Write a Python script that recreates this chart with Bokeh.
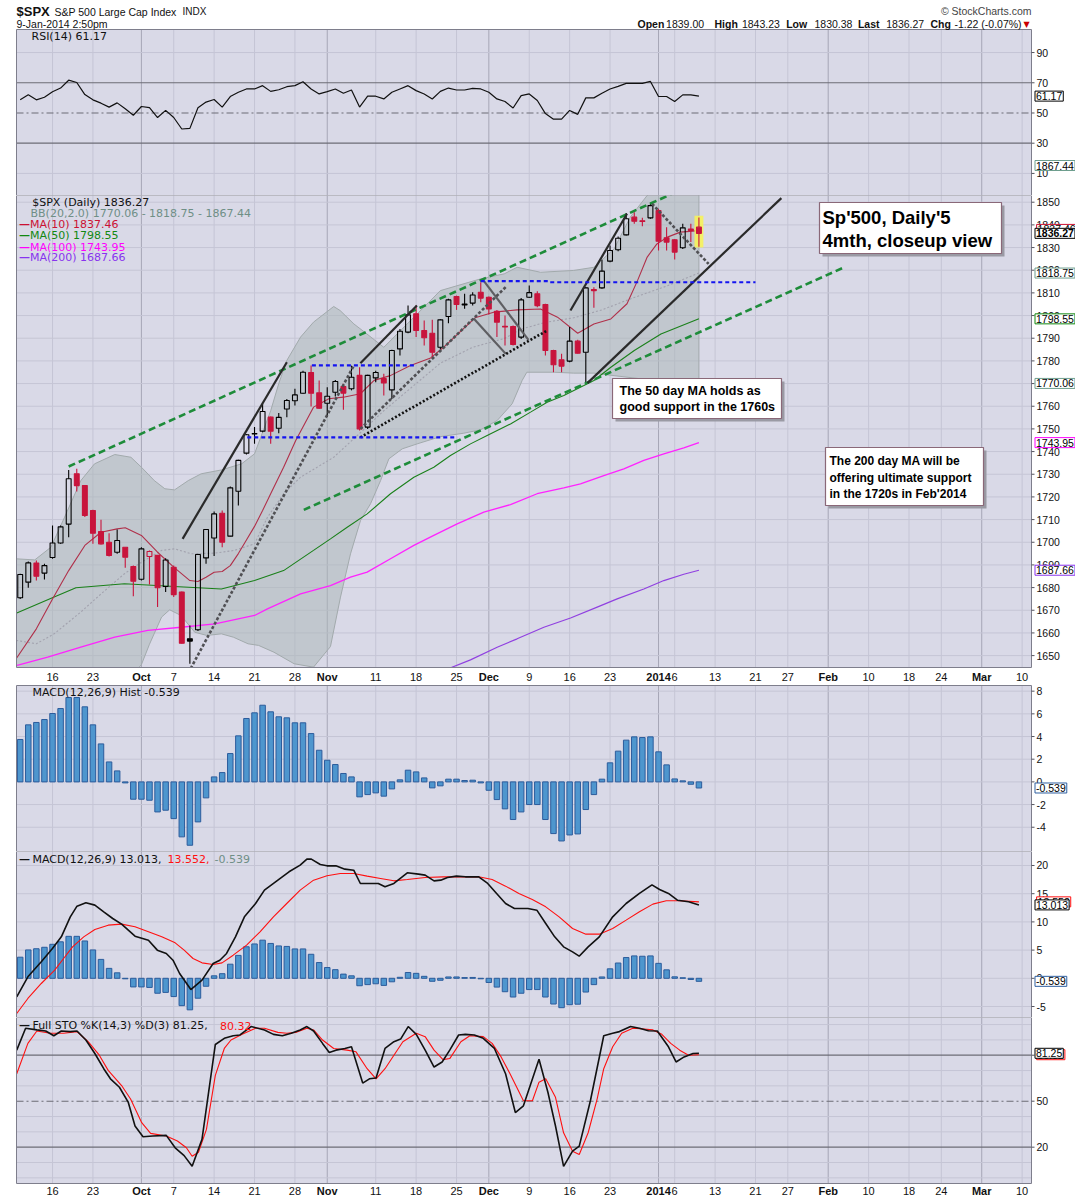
from bokeh.plotting import figure
from bokeh.models import Range1d, Label, Grid, ColumnDataSource
from bokeh.layouts import column
from bokeh.embed import file_html
from bokeh.resources import INLINE
from bokeh.core.properties import value

# ---------------- data ----------------
# daily candles, trading-day index 0 = 10-Sep-2013 ... 84 = 9-Jan-2014
opens = [1675.5,1682.4,1690.8,1686.4,1693.3,1699.7,1708.0,1730.2,1725.0,1714.0,
 1704.7,1700.0,1695.6,1697.8,1689.3,1683.7,1693.7,1694.2,1680.5,1689.0,
 1678.0,1657.4,1661.4,1693.1,1701.9,1712.8,1702.7,1722.5,1739.3,1747.8,
 1749.0,1755.2,1750.3,1758.8,1762.4,1765.7,1774.9,1765.9,1761.3,1766.2,
 1768.7,1767.7,1773.6,1750.8,1772.5,1772.2,1767.2,1785.3,1792.7,1800.8,
 1793.4,1792.2,1786.0,1799.6,1808.4,1804.7,1805.5,1810.3,1808.1,1801.9,
 1795.3,1795.2,1790.5,1808.1,1809.6,1804.9,1784.6,1780.5,1779.9,1788.7,
 1783.8,1811.5,1812.2,1824.0,1829.0,1835.6,1843.4,1841.8,1843.1,1846.3,
 1834.3,1833.4,1829.9,1838.2,1839.00]
highs = [1686.1,1691.5,1691.9,1690.5,1707.4,1707.4,1731.9,1732.4,1725.3,1714.3,
 1709.9,1704.0,1705.6,1697.8,1689.7,1697.8,1696.4,1694.2,1692.9,1689.7,
 1678.3,1663.3,1694.9,1705.9,1713.6,1714.0,1724.6,1736.4,1747.8,1750.8,
 1761.1,1755.5,1757.0,1763.2,1767.7,1775.7,1778.0,1771.3,1768.4,1771.6,
 1769.9,1777.9,1777.2,1773.9,1775.7,1774.3,1784.9,1794.1,1804.4,1804.4,
 1797.8,1798.1,1798.5,1807.4,1808.8,1809.6,1810.3,1814.7,1808.4,1802.5,
 1800.0,1795.6,1807.8,1813.3,1810.7,1805.2,1784.9,1783.1,1794.9,1789.3,
 1812.5,1812.5,1824.6,1830.9,1834.9,1845.2,1845.6,1843.1,1849.6,1847.1,
 1839.0,1833.8,1840.5,1840.5,1843.23]
lows = [1675.0,1679.9,1683.1,1683.6,1692.7,1699.3,1702.2,1722.4,1711.1,1699.3,
 1699.0,1693.7,1694.9,1688.7,1676.2,1683.1,1681.4,1671.4,1678.0,1675.8,
 1655.2,1646.4,1660.8,1690.5,1693.9,1697.8,1702.5,1716.2,1738.7,1743.4,
 1748.5,1743.4,1748.1,1755.1,1760.3,1765.5,1759.9,1758.8,1755.2,1764.3,
 1758.4,1767.0,1749.3,1750.0,1770.6,1764.7,1763.2,1782.4,1792.2,1790.5,
 1786.8,1781.6,1785.3,1796.6,1802.5,1803.0,1804.4,1805.9,1800.5,1790.5,
 1786.8,1786.8,1789.7,1807.8,1803.7,1782.4,1775.0,1775.0,1779.4,1783.1,
 1770.2,1803.4,1811.8,1823.5,1828.4,1835.3,1840.5,1839.4,1842.7,1828.7,
 1828.7,1824.7,1829.4,1832.4,1830.38]
closes = [1685.8,1690.9,1685.0,1689.7,1699.7,1706.8,1728.0,1725.0,1711.8,1704.0,
 1699.3,1694.2,1700.8,1693.4,1682.8,1697.1,1695.9,1679.9,1692.2,1676.9,
 1655.5,1656.4,1694.6,1705.6,1712.5,1700.0,1724.0,1736.1,1747.4,1747.9,
 1757.7,1749.0,1755.1,1762.5,1765.0,1775.0,1765.7,1759.1,1764.4,1770.9,
 1765.8,1772.8,1750.0,1773.6,1774.9,1770.3,1784.6,1793.1,1800.3,1793.4,
 1790.2,1783.8,1798.1,1806.9,1804.9,1805.1,1809.1,1807.7,1802.9,1797.1,
 1795.0,1787.2,1806.9,1810.1,1804.4,1784.6,1778.3,1777.7,1788.7,1783.4,
 1812.2,1811.0,1819.6,1828.7,1834.1,1842.7,1841.6,1841.5,1848.5,1832.8,
 1832.4,1828.0,1838.7,1837.5,1836.27]

rsi = [58.7,62.0,58.7,60.4,64.1,66.5,71.7,70.2,62.2,58.7,
 56.5,53.9,56.7,52.8,48.5,54.3,53.5,47.0,51.7,47.0,
 39.4,39.8,53.5,57.2,58.9,53.9,60.9,63.7,65.9,65.9,
 68.1,64.3,65.4,67.4,68.1,70.7,65.9,62.6,64.1,65.9,
 63.1,65.2,53.9,61.1,61.1,59.3,63.7,65.9,68.1,64.8,
 62.6,59.3,64.3,66.5,65.2,65.2,66.3,65.9,63.7,59.3,
 57.6,53.3,61.5,62.6,58.3,49.6,45.9,45.9,51.7,49.1,
 60.0,60.0,63.1,65.9,67.6,69.6,69.6,69.6,70.9,60.9,
 60.9,57.6,62.0,62.0,61.17]

hist = [3.74,5.03,5.24,5.5,6.03,6.47,7.44,7.44,6.62,5.03,
 3.35,1.76,0.97,-0.09,-1.53,-1.53,-1.62,-2.65,-2.5,-3.24,
 -4.85,-5.59,-3.53,-1.41,0.44,0.82,2.5,4.06,5.59,6.09,
 6.76,6.18,5.74,5.65,5.21,5.21,4.26,2.79,1.91,1.53,
 0.74,0.44,-1.32,-1.12,-0.97,-1.26,-0.62,0.18,1.03,0.88,
 0.35,-0.53,-0.35,0.24,0.24,0.12,0.15,-0.09,-0.74,-1.56,
 -2.38,-3.32,-2.65,-2.0,-2.0,-3.32,-4.56,-5.21,-4.68,-4.59,
 -2.44,-1.12,0.24,1.68,2.71,3.68,3.97,3.91,3.97,2.65,
 1.5,0.26,0.09,-0.21,-0.539]

macd_t = [-0.43,0.95,2.61,3.99,5.09,6.2,7.03,8.13,9.24,10.34,11.45,12.55,13.38,14.21,15.87,
 16.97,18.08,18.91,19.73,21.12,22.5,23.88,24.71,25.54,26.64,27.75,29.13,30.23,31.89,33.27,
 34.65,35.48,36.03,37.14,37.97,39.07,40.18,41.28,42.1,43.2,44.32,45.15,46.25,47.91,49.29,
 50.12,51.22,52.05,52.88,53.99,55.09,56.75,57.86,58.96,60.07,61.17,62.83,63.94,65.04,66.15,
 67.25,68.36,69.18,70.29,71.67,73.33,74.99,76.64,78.19,79.13,80.23,81.34,82.72,84.0]
macd_v = [-3.29,0.26,2.92,5.29,7.35,10.9,12.79,13.38,12.97,11.79,10.6,9.6,8.54,7.47,6.76,
 4.99,4.4,3.21,0.85,-1.99,-0.33,2.62,3.21,4.4,7.35,10.9,13.26,15.63,17.4,18.88,
 20.06,21.12,21.12,20.18,19.94,19.94,19.35,19.17,16.81,16.81,16.81,16.22,16.81,18.7,18.47,
 18.29,17.28,17.4,17.87,18.11,17.99,17.99,16.81,15.04,13.26,12.38,12.38,12.08,9.72,7.35,
 5.58,4.69,3.92,5.58,7.35,10.9,13.26,15.04,16.57,15.75,15.04,13.85,13.56,13.013]
sig_t = [-0.43,0.95,2.61,4.27,5.37,6.48,7.86,9.24,10.89,12.55,14.21,15.87,17.52,19.18,20.29,
 21.39,22.5,23.88,24.98,26.36,28.02,29.68,31.34,32.99,34.65,36.31,37.97,39.62,41.28,42.94,
 44.6,46.25,47.91,50.12,52.33,54.54,56.75,58.41,60.07,61.72,63.38,65.04,66.7,68.36,70.01,
 71.67,73.33,74.99,76.64,78.3,79.96,81.62,84.0]
sig_v = [-6.24,-3.58,-0.92,1.44,3.51,5.58,7.35,8.65,9.42,9.6,9.13,8.24,7.35,6.29,4.99,
 3.51,2.74,2.45,2.74,4.1,5.88,8.24,10.9,13.26,15.63,17.4,18.17,18.58,18.58,18.11,
 17.7,17.28,17.52,17.87,17.99,17.99,17.99,17.52,16.34,15.04,13.97,12.67,10.9,8.83,7.83,
 7.83,8.83,10.31,11.79,13.15,13.74,13.74,13.552]

stok_t = [-0.43,0.67,2.06,3.16,4.16,5.09,6.2,7.03,8.13,9.24,10.34,11.17,12.28,13.38,14.21,
 15.2,16.42,18.08,19.18,20.29,21.28,22.5,24.15,25.26,26.36,27.2,28.57,30.23,31.34,32.44,
 33.55,34.65,35.48,36.31,37.42,38.25,39.08,40.18,41.0,42.39,43.22,44.04,45.15,46.25,47.08,
 48.02,49.02,50.12,51.22,52.22,53.16,54.26,55.09,56.2,57.31,58.69,60.07,61.28,62.28,64.21,
 65.31,66.25,67.25,68.36,69.19,70.57,72.22,73.33,74.16,75.54,76.64,77.75,78.85,80.23,81.17,
 82.17,83.27,84.0]
stok_v = [83.3,97.6,96.5,95.8,92.7,95.8,95.4,95.8,89.9,81.1,71.2,64.6,59.1,49.2,33.8,
 26.8,27.3,27.7,19.6,14.5,7.5,25.1,87.0,91.0,92.7,93.2,98.7,96.5,93.6,92.7,
 94.3,96.5,98.7,95.8,87.7,81.8,83.3,84.4,85.5,61.8,64.6,65.1,84.4,88.8,90.5,
 98.7,93.6,83.3,72.3,75.6,83.3,93.2,93.6,93.2,91.0,84.4,67.9,42.6,47.0,77.4,
 55.8,33.8,7.5,17.4,20.7,50.3,92.7,94.3,95.4,98.7,97.6,96.0,95.8,85.5,75.6,
 78.9,81.1,81.25]
stod_t = [-0.43,0.95,2.06,3.71,5.37,7.03,8.41,9.79,10.89,12.55,13.66,15.04,16.14,18.08,19.46,
 20.57,21.28,22.06,23.05,24.15,25.26,26.09,27.47,29.13,30.23,31.89,33.0,34.1,35.48,36.31,
 37.42,38.8,40.45,41.56,42.94,44.04,45.15,46.25,47.36,49.02,50.12,51.22,52.33,53.16,54.54,
 55.65,57.31,58.41,59.52,60.62,61.45,62.28,63.39,64.21,65.04,66.25,67.25,68.36,69.19,70.29,
 71.4,72.22,73.33,74.44,75.82,77.2,78.3,79.41,80.51,81.62,82.72,84.0]
stod_v = [67.9,87.7,95.8,94.3,94.3,95.4,88.8,80.0,70.1,60.2,51.4,36.0,29.0,27.3,24.0,
 19.6,14.1,16.7,31.6,66.8,84.4,89.9,93.6,97.6,97.6,94.9,94.3,94.9,97.6,96.5,
 89.9,84.4,83.3,82.2,71.2,64.6,71.2,80.0,88.8,94.3,92.1,83.3,77.1,77.8,88.8,
 92.7,92.1,87.7,78.9,67.9,59.1,50.3,50.3,62.4,64.6,52.5,29.4,17.4,15.2,29.4,
 51.4,71.2,85.5,94.3,97.6,97.1,96.5,93.6,87.7,83.3,80.0,80.32]

ma10_t = [-0.5,2,4,6,8,10,12,13,15,17,19,21,22,23,24,25,26,27,28,29,30,31,32.6,34.1,36.3,
 38.2,40,42.1,43.8,45.8,48.3,50.8,52.4,54.7,56.3,58.6,61.5,64.4,66.5,69,71,73.1,75.1,76.4,
 77.6,78.8,80.1,81.7,84]
ma10_v = [1648.6,1661.8,1675.0,1687.5,1698.6,1704.4,1705.9,1706.4,1703.0,1695.6,1689.0,1683.1,
 1682.7,1684.6,1686.8,1687.1,1689.7,1695.0,1701.0,1707.0,1714.0,1721.4,1733.1,1744.9,1759.6,
 1763.3,1764.0,1765.5,1771.4,1773.5,1778.0,1781.3,1786.0,1793.7,1799.0,1801.5,1802.5,1802.9,
 1799.3,1792.2,1796.3,1798.5,1805.2,1815.4,1825.8,1831.6,1834.6,1836.8,1837.46]
ma50_t = [-0.5,4.2,6.9,12.9,19.1,24.9,29,32.6,36.3,38.4,40.47,42.94,45.83,48.72,51.19,53.25,
 55.73,57.79,60.68,63.16,65.22,67.28,69.76,71,73.1,76,79.3,84]
ma50_v = [1668.7,1675.8,1679.9,1681.7,1680.5,1679.4,1683.1,1687.5,1696.4,1701.5,1706.6,1712.5,
 1721.4,1728.7,1733.1,1738.3,1743.4,1747.1,1752.2,1757.4,1761.8,1764.7,1769.1,1771.35,1777.2,
 1784.6,1791.9,1798.55]
ma100_t = [-0.5,3.4,7.5,11.7,15.8,19.9,24.1,29,30.6,34.7,38.4,40.88,42.94,45.83,48.72,51.19,
 54.08,57.38,60.68,63.98,67.28,69.34,72.23,74.71,77.18,79.66,82.13,84]
ma100_v = [1645.6,1649.3,1653.7,1658.1,1661.1,1662.5,1664.0,1667.7,1670.6,1677.2,1680.9,1684.6,
 1686.8,1692.7,1698.6,1703.0,1708.1,1713.3,1716.6,1721.4,1724.0,1725.8,1729.4,1732.4,1736.1,
 1739.0,1741.6,1743.95]
ma200_t = [50.5,52.43,55.73,59.03,61.5,64.81,68.11,71.41,73.88,77.18,79.66,82.13,84]
ma200_v = [1640.8,1643.4,1648.1,1653.7,1657.4,1662.5,1666.6,1671.4,1675.0,1679.4,1683.1,1685.9,1687.66]

bb_up_t = [-0.5,1.8,3.8,5.5,7.5,9.2,11.7,13.7,15,16.6,17.9,19.1,20.8,22.4,24.9,27.4,29,31,32,33,
 34.7,36.3,38.8,39.6,41.3,42.9,45,47.9,52,57,59.9,61.5,64.4,68.5,71,73.5,75.5,77.6,80,84]
bb_up_v = [1692.7,1692.2,1697.8,1711.1,1727.2,1734.6,1738.7,1737.5,1733.1,1727.2,1723.6,1723.1,
 1727.2,1730.2,1731.9,1734.6,1739.0,1758.0,1770.0,1780.2,1790.5,1797.1,1804.0,1802.2,1796.3,
 1791.9,1786.0,1796.3,1811.0,1816.2,1818.4,1821.3,1819.1,1819.9,1821.3,1829.4,1843.4,1853.0,
 1860.0,1867.44]
bb_lo_t = [-0.5,5,10,12.5,14,15,16,17.5,18.5,19.9,21.6,23.1,24.9,26.4,28.2,29.5,31.4,33.9,36.3,
 38.4,39.64,40.88,42.12,43.36,44.6,45.63,47.28,49.13,52.02,54.9,56.97,59.03,60.89,62.12,62.7,
 66.1,68.5,71,73.5,76.8,80.9,84]
bb_lo_v = [1636.0,1634.0,1634.0,1638.0,1642.0,1646.0,1655.0,1667.0,1670.2,1667.7,1660.3,1658.9,
 1659.6,1658.1,1655.2,1654.5,1651.5,1646.4,1644.9,1654.0,1675.8,1694.9,1709.6,1717.0,1727.2,
 1736.8,1741.2,1743.4,1746.6,1748.1,1749.6,1753.7,1761.1,1771.35,1775.0,1775.0,1774.6,1774.6,
 1773.5,1772.1,1770.6,1770.06]
bb_mid_t = [-0.5,2,4.2,7.5,10,12.9,15,17.5,19.1,21.2,24.1,26.5,29,30.6,32.6,34.7,38.8,42,45,48,
 52,56,60,62,65,68.5,72,76,80,84]
bb_mid_v = [1656.7,1655.2,1659.6,1669.2,1677.2,1686.1,1691.2,1696.4,1697.1,1694.9,1695.2,1696.4,
 1699.3,1711.0,1721.4,1728.7,1737.5,1748.0,1758.0,1767.0,1779.0,1786.0,1790.0,1794.0,1797.0,
 1799.0,1802.5,1808.0,1813.0,1818.75]

# hand-drawn chart annotations: (index0, price0, index1, price1)
green_dash_lines = [(6.0, 1733.4, 94.2, 1875.5), (35.1, 1714.3, 102.1, 1821.5)]
black_lines = [(20.1, 1701.5, 33.0, 1779.4), (42.1, 1779.0, 49.1, 1804.4),
               (68.1, 1802.2, 75.1, 1844.9), (70.2, 1770.2, 94.2, 1851.8)]
gray_dash_lines = [(21.1, 1644.3, 41.3, 1778.0), (42.1, 1750.0, 60.1, 1812.6),
                   (78.2, 1849.3, 85.2, 1822.8)]
black_dot_lines = [(42.1, 1746.3, 65.2, 1793.4)]
blue_dash_lines = [(36.1, 1778.0, 49.1, 1778.0), (28.1, 1746.3, 54.1, 1746.3),
                   (57.0, 1815.2, 65.6, 1815.2), (65.6, 1814.7, 91.0, 1814.7)]
gray_lines = [(56.1, 1798.8, 60.1, 1783.1), (57.4, 1815.2, 62.9, 1789.3)]
highlight_idx = 84

# time axis (trading-day index of each tick)
tick_idx = [4, 9, 15, 19, 24, 29, 34, 38, 44, 49, 54, 58, 63, 68, 73, 79, 81, 86, 91, 95,
            100, 105, 110, 114, 119, 124]
tick_lab = ["16", "23", "Oct", "7", "14", "21", "28", "Nov", "11", "18", "25", "Dec", "9", "16",
            "23", "2014", "6", "13", "21", "27", "Feb", "10", "18", "24", "Mar", "10"]
month_lab = ["Oct", "Nov", "Dec", "2014", "Feb", "Mar"]

rsi_ticks = [10, 30, 50, 70, 90]
price_ticks = list(range(1650, 1851, 10))
hist_ticks = [-4, -2, 0, 2, 4, 6, 8]
macd_ticks = [-5, 0, 5, 10, 15, 20]
sto_ticks = [20, 50, 80]

# ---------------- layout & style ----------------
BG = "#D9D9E7"
GRID_LIGHT = "#C5C5D5"
GRID_MONTH = "#A6A6B6"
LINE_DARK = "#6C6C76"
OUTLINE = "#7E7E8C"
RED = "#C8143C"
BAR_FILL = "#4E96CE"
BAR_LINE = "#2C5C9C"
FONT = "Liberation Sans"
LFONT = "DejaVu Sans"

PAGE_W = 1075
PX_PER_DAY = 8.08
IDX0_PX = 19.7          # page x of trading day 0


def X(px):
    return (px - IDX0_PX) / PX_PER_DAY


XL, XR = X(0), X(PAGE_W)        # canvas edges
X0, X1 = X(16), X(1031)         # plot area edges


class Panel:
    def __init__(self, T, B, pt, pb, lo, hi):
        self.T, self.B, self.pt, self.pb, self.lo, self.hi = T, B, pt, pb, lo, hi
        self.s = (hi - lo) / (pb - pt)
        self.clo = lo - (B - pb) * self.s
        self.chi = hi + (pt - T) * self.s

    def Y(self, py):
        return self.hi - (py - self.pt) * self.s


P_RSI = Panel(0, 195, 29, 195, -4.6, 105.25)
P_PR = Panel(195, 684, 195, 667, 1644.75, 1852.96)
P_H = Panel(684, 851, 685, 851, -6.14, 8.5)
P_M = Panel(851, 1017, 851, 1017, -6.95, 22.48)
P_S = Panel(1017, 1198, 1017, 1183, -3.7, 104.6)

week_ticks = [t for t, l in zip(tick_idx, tick_lab) if l not in month_lab]
month_ticks = [t for t, l in zip(tick_idx, tick_lab) if l in month_lab]


def make_fig(P):
    p = figure(width=PAGE_W, height=P.B - P.T, x_range=Range1d(XL, XR),
               y_range=Range1d(P.clo, P.chi), output_backend="svg", toolbar_location=None,
               x_axis_location=None, y_axis_location=None, title=None, min_border=0,
               background_fill_color="white", border_fill_color="white",
               outline_line_color=None)
    p.center = [r for r in p.center if not isinstance(r, Grid)]
    p.quad(left=[X0], right=[X1], bottom=[P.lo], top=[P.hi], fill_color=BG, line_color=None)
    vlines(p, P, week_ticks, GRID_LIGHT)
    vlines(p, P, month_ticks, GRID_MONTH)
    return p


def hlines(p, ys, color, width=1.0, dash="solid"):
    p.segment(x0=[X0] * len(ys), x1=[X1] * len(ys), y0=ys, y1=ys, line_color=color,
              line_width=width, line_dash=dash)


def vlines(p, P, xs, color):
    p.segment(x0=xs, x1=xs, y0=[P.lo] * len(xs), y1=[P.hi] * len(xs), line_color=color,
              line_width=1)


def txt(p, x, y, text, size="11px", color="#111111", bold=False, font=LFONT, align="left"):
    if not isinstance(text, list):
        x, y, text = [x], [y], [text]
    p.text(x=x, y=y, text=text, text_font=value(font), text_font_size=size,
           text_color=color, text_font_style="bold" if bold else "normal",
           text_baseline="middle", text_align=align)


def finish(p, P, ticks):
    big = 1e4 * P.s
    p.quad(left=[X1], right=[XR + 5], bottom=[P.clo - big], top=[P.chi + big],
           fill_color="white", line_color=None)
    p.quad(left=[XL - 5], right=[X0], bottom=[P.clo - big], top=[P.chi + big],
           fill_color="white", line_color=None)
    if P.pb < P.B:
        p.quad(left=[XL - 5], right=[XR + 5], bottom=[P.clo - big], top=[P.lo],
               fill_color="white", line_color=None)
    if P.pt > P.T:
        p.quad(left=[XL - 5], right=[XR + 5], bottom=[P.hi], top=[P.chi + big],
               fill_color="white", line_color=None)
    p.quad(left=[X0], right=[X1], bottom=[P.lo], top=[P.hi], fill_color=None,
           line_color=OUTLINE, line_width=1)
    n = len(ticks)
    p.segment(x0=[X1] * n, x1=[X(1034)] * n, y0=ticks, y1=ticks, line_color="#555560",
              line_width=1)
    txt(p, [X(1036)] * n, ticks, [str(t) for t in ticks], size="10.5px", font=FONT)


def value_box(p, y, text, border, bold=False, dx=0.0):
    p.add_layout(Label(x=X(1034.5) + dx, y=y, text=text, text_font=FONT,
                       text_font_size="10.5px", text_color="black",
                       text_font_style="bold" if bold else "normal", text_baseline="middle",
                       text_align="left", background_fill_color="white",
                       border_line_color=border, border_line_width=1, padding=1))


def x_labels(p, y):
    norm = [(t, l) for t, l in zip(tick_idx, tick_lab) if l not in month_lab]
    bold = [(t, l) for t, l in zip(tick_idx, tick_lab) if l in month_lab]
    txt(p, [t for t, _ in norm], [y] * len(norm), [l for _, l in norm], font=FONT,
        align="center")
    txt(p, [t for t, _ in bold], [y] * len(bold), [l for _, l in bold], font=FONT,
        bold=True, align="center")


def segs(p, lines, **kw):
    p.segment(x0=[s[0] for s in lines], y0=[s[1] for s in lines],
              x1=[s[2] for s in lines], y1=[s[3] for s in lines], **kw)


idx = list(range(len(closes)))

# ---------------- RSI panel (with page header) ----------------
p_rsi = make_fig(P_RSI)
hlines(p_rsi, [10, 90], GRID_LIGHT)
hlines(p_rsi, [30, 70], LINE_DARK, width=1.2)
hlines(p_rsi, [50], LINE_DARK, width=1.1, dash="7 3 2 3")
p_rsi.line(idx, rsi, line_color="#111111", line_width=1.2)
finish(p_rsi, P_RSI, rsi_ticks)
txt(p_rsi, X(31), P_RSI.Y(35.5), "RSI(14) 61.17")
value_box(p_rsi, rsi[-1], "61.17", "black")
value_box(p_rsi, P_RSI.Y(165), "1867.44", "#6E9E8E")

txt(p_rsi, X(16), P_RSI.Y(10.7), "$SPX", size="13px", bold=True, font=FONT)
txt(p_rsi, X(54), P_RSI.Y(11), "S&P 500 Large Cap Index", size="10.5px", font=FONT)
txt(p_rsi, X(182), P_RSI.Y(11), "INDX", size="10px", font=FONT)
txt(p_rsi, X(1031), P_RSI.Y(10.5), "\u00a9 StockCharts.com", size="10.5px", color="#444444",
    font=FONT, align="right")
txt(p_rsi, X(16), P_RSI.Y(23.5), "9-Jan-2014 2:50pm", size="10.5px", font=FONT)
hdr = [(637, "Open", True), (665.6, "1839.00", False), (714, "High", True),
       (741.4, "1843.23", False), (785.7, "Low", True), (814, "1830.38", False),
       (857.4, "Last", True), (885.7, "1836.27", False), (930, "Chg", True),
       (954, "-1.22 (-0.07%)", False)]
for hx, ht, hb in hdr:
    txt(p_rsi, X(hx), P_RSI.Y(23.5), ht, size="10.5px", bold=hb, font=FONT)
txt(p_rsi, X(1023), P_RSI.Y(24), "\u25bc", size="8px", color="#CC0000")

# ---------------- price panel ----------------
p_pr = make_fig(P_PR)
hlines(p_pr, price_ticks, GRID_LIGHT)

p_pr.patch(x=bb_up_t + bb_lo_t[::-1], y=bb_up_v + bb_lo_v[::-1], fill_color="#A9B5B6",
           fill_alpha=0.5, line_color="#A2AAAC", line_width=1)
p_pr.line(bb_mid_t, bb_mid_v, line_color="#A2A2AE", line_width=1.1, line_dash="2 2")

p_pr.line(ma200_t, ma200_v, line_color="#9040E0", line_width=1.2)
p_pr.line(ma100_t, ma100_v, line_color="#FF22FF", line_width=1.3)
p_pr.line(ma50_t, ma50_v, line_color="#1A801A", line_width=1.1)
p_pr.line(ma10_t, ma10_v, line_color="#B0304A", line_width=1.1)

p_pr.quad(left=[highlight_idx - 0.55], right=[highlight_idx + 0.55],
          bottom=[lows[highlight_idx] - 0.4], top=[highs[highlight_idx] + 0.8],
          fill_color="#F6F25A", fill_alpha=0.9, line_color=None)

colors, alphas, btop, bbot = [], [], [], []
for i in idx:
    prev = closes[i - 1] if i > 0 else opens[0]
    colors.append(RED if closes[i] < prev else "black")
    alphas.append(1.0 if closes[i] < opens[i] else 0.0)
    btop.append(max(opens[i], closes[i]))
    bbot.append(min(opens[i], closes[i]))
src = ColumnDataSource(dict(x=idx, h=highs, l=lows, t=btop, b=bbot, c=colors, a=alphas))
p_pr.segment(x0="x", y0="h", x1="x", y1="t", source=src, line_color="c", line_width=1.1)
p_pr.segment(x0="x", y0="b", x1="x", y1="l", source=src, line_color="c", line_width=1.1)
p_pr.vbar(x="x", width=0.6, top="t", bottom="b", source=src, fill_color="c", fill_alpha="a",
          line_color="c", line_width=1.1)

segs(p_pr, green_dash_lines, line_color="#1E8C3A", line_width=2.6, line_dash="7 4")
segs(p_pr, black_lines, line_color="#2A2A2A", line_width=2.2)
segs(p_pr, gray_lines, line_color="#5E5E62", line_width=2.2)
segs(p_pr, gray_dash_lines, line_color="#505054", line_width=2.6, line_dash="3 2")
segs(p_pr, black_dot_lines, line_color="#111111", line_width=2.6, line_dash="2 2")
segs(p_pr, blue_dash_lines, line_color="#1414F0", line_width=2.2, line_dash="4 3")

boxes = [
    ((819, 202, 1001, 253), ["Sp'500, Daily'5", "4mth, closeup view"], [216.7, 240.0], 822, "18.5px"),
    ((612, 378, 781, 418), ["The 50 day MA holds as", "good support in the 1760s"], [390.0, 406.5], 619, "12.5px"),
    ((825, 447, 983, 505), ["The 200 day MA will be", "offering ultimate support", "in the 1720s in Feb'2014"],
     [460.5, 477.0, 493.5], 829, "12px"),
]
for (bx0, by0, bx1, by1), lines, ys, tx, fs in boxes:
    p_pr.quad(left=[X(bx0 + 3)], right=[X(bx1 + 3)], top=[P_PR.Y(by0 + 3)],
              bottom=[P_PR.Y(by1 + 3)], fill_color="#9A9AA4", line_color=None)
    p_pr.quad(left=[X(bx0)], right=[X(bx1)], top=[P_PR.Y(by0)], bottom=[P_PR.Y(by1)],
              fill_color="white", line_color="#8A6878", line_width=1.2)
    txt(p_pr, [X(tx)] * len(lines), [P_PR.Y(yy) for yy in ys], lines, size=fs, bold=True,
        font=FONT, color="black")

finish(p_pr, P_PR, price_ticks)

txt(p_pr, X(31.7), P_PR.Y(202.3), "$SPX (Daily) 1836.27")
txt(p_pr, X(30), P_PR.Y(213.3), "BB(20,2.0) 1770.06 - 1818.75 - 1867.44", color="#6F8F86")
for py, t, colr in [(224, "MA(10) 1837.46", "#CC1133"), (235, "MA(50) 1798.55", "#118811"),
                    (246.7, "MA(100) 1743.95", "#FF00FF"), (257.3, "MA(200) 1687.66", "#8833EE")]:
    txt(p_pr, X(18.5), P_PR.Y(py), "\u2014", color=colr, bold=True)
    txt(p_pr, X(29.5), P_PR.Y(py), t, color=colr)

value_box(p_pr, 1818.75, "1818.75", "#6E9E8E")
value_box(p_pr, 1798.55, "1798.55", "#118811")
value_box(p_pr, 1770.06, "1770.06", "#6E9E8E")
value_box(p_pr, 1743.95, "1743.95", "#FF00FF")
value_box(p_pr, 1687.66, "1687.66", "#8833EE")
value_box(p_pr, 1838.0, "1837.46", "#CC1133", dx=0.2)
value_box(p_pr, 1836.27, "1836.27", "black", bold=True)
x_labels(p_pr, P_PR.Y(676))

# ---------------- MACD histogram panel ----------------
p_h = make_fig(P_H)
hlines(p_h, hist_ticks, GRID_LIGHT)
p_h.vbar(x=idx, top=hist, bottom=0, width=0.68, fill_color=BAR_FILL, line_color=BAR_LINE,
         line_width=1)
finish(p_h, P_H, hist_ticks)
txt(p_h, X(31.9), P_H.Y(692.3), "MACD(12,26,9) Hist -0.539")
value_box(p_h, hist[-1], "-0.539", "#3060A0")

# ---------------- MACD panel ----------------
p_m = make_fig(P_M)
hlines(p_m, macd_ticks, GRID_LIGHT)
p_m.vbar(x=idx, top=hist, bottom=0, width=0.68, fill_color=BAR_FILL, line_color=BAR_LINE,
         line_width=1)
p_m.line(sig_t, sig_v, line_color="#FF1010", line_width=1.1)
p_m.line(macd_t, macd_v, line_color="#111111", line_width=1.6)
finish(p_m, P_M, macd_ticks)
txt(p_m, X(18.5), P_M.Y(858.7), "\u2014", bold=True)
txt(p_m, X(31.9), P_M.Y(858.7), "MACD(12,26,9) 13.013,")
txt(p_m, X(167), P_M.Y(858.7), "13.552,", color="#FF1010")
txt(p_m, X(214), P_M.Y(858.7), "-0.539", color="#6F8F86")
value_box(p_m, hist[-1], "-0.539", "#3060A0")
value_box(p_m, sig_v[-1], "13.552", "#FF1010", dx=0.2)
value_box(p_m, macd_v[-1], "13.013", "black")

# ---------------- Stochastic panel ----------------
p_s = make_fig(P_S)
hlines(p_s, [0, 10, 30, 40, 60, 70, 90, 100], GRID_LIGHT)
hlines(p_s, [20, 80], LINE_DARK, width=1.2)
hlines(p_s, [50], LINE_DARK, width=1.1, dash="7 3 2 3")
p_s.line(stod_t, stod_v, line_color="#FF1010", line_width=1.1)
p_s.line(stok_t, stok_v, line_color="#111111", line_width=1.6)
finish(p_s, P_S, sto_ticks)
txt(p_s, X(18.5), P_S.Y(1025), "\u2014", bold=True)
txt(p_s, X(31.9), P_S.Y(1025), "Full STO %K(14,3) %D(3) 81.25,")
txt(p_s, X(219.4), P_S.Y(1025), "80.32", color="#FF1010")
value_box(p_s, stod_v[-1], "80.32", "#FF1010", dx=0.2)
value_box(p_s, stok_v[-1], "81.25", "black")
x_labels(p_s, P_S.Y(1190))

layout = column(p_rsi, p_pr, p_h, p_m, p_s, spacing=0)
open("out.html", "w").write(file_html(layout, INLINE))
